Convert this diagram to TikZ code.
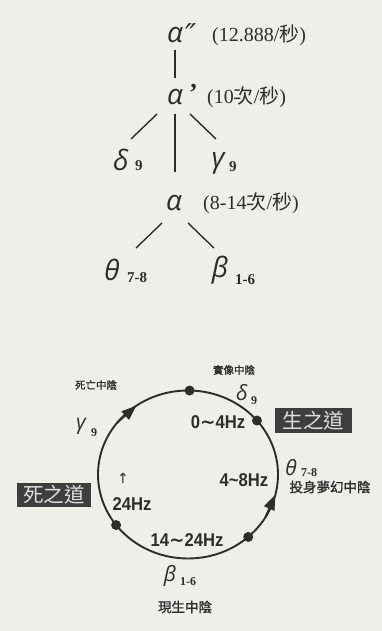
\documentclass[tikz,border=0pt]{standalone}
\usepackage{fontspec}
\setmainfont{Liberation Serif}
\newfontfamily\cjk{Noto Sans CJK TC}
\newfontfamily\cjkb{Noto Sans CJK TC}[FakeBold=1.2]
\newfontfamily\grkf{Open Sans}
\newfontfamily\symf{DejaVu Sans}
\newfontfamily\hzf{Liberation Sans}[FakeStretch=0.9]
\usetikzlibrary{calc,arrows.meta}
\definecolor{paper}{RGB}{239,238,233}
\definecolor{ink}{RGB}{45,45,45}
\definecolor{boxfill}{RGB}{62,62,62}
\definecolor{boxtext}{RGB}{222,222,222}
\begin{document}
\begin{tikzpicture}[x=1pt,y=-1pt,
  grk/.style={inner sep=0pt, text=ink, font=\grkf\itshape\fontsize{28}{28}\selectfont},
  grks/.style={inner sep=0pt, text=ink, font=\grkf\itshape\fontsize{21}{21}\selectfont},
  sub/.style={inner sep=0pt, anchor=west, text=ink, font=\bfseries\fontsize{15}{15}\selectfont},
  subs/.style={inner sep=0pt, anchor=west, text=ink, font=\bfseries\fontsize{12}{12}\selectfont},
  paren/.style={inner sep=0pt, anchor=west, text=ink, font=\fontsize{20}{20}\selectfont},
  hz/.style={inner sep=0pt, text=ink, font=\hzf\bfseries\fontsize{18.5}{18.5}\selectfont},
  lab/.style={inner sep=0pt, text=ink, font=\cjkb\fontsize{10.5}{10.5}\selectfont},
  labb/.style={inner sep=0pt, text=ink, font=\cjkb\fontsize{13.5}{13.5}\selectfont},
  way/.style={fill=boxfill, text=boxtext, inner sep=0pt, minimum height=25pt, minimum width=77pt, font=\cjk\fontsize{20.5}{20.5}\selectfont},
  tree/.style={draw=ink, line width=1.4pt},
  ring/.style={draw=ink, line width=1.9pt},
  dotn/.style={circle, fill=ink, inner sep=0pt, minimum size=10pt},
  arr/.style={draw=ink, line width=1.9pt, -{Triangle[length=15pt,width=11pt]}}
]
\fill[paper] (0,0) rectangle (382,631);
\useasboundingbox (0,0) rectangle (382,631);

% ---------- tree ----------
\node[grk] (a2) at (175,35) {α};
\node[inner sep=0pt, anchor=west, text=ink, font=\symf\itshape\fontsize{30}{30}\selectfont] (a2p) at (185,35) {″};
\node[paren] (a2t) at (212,35) {(12.888/{\cjk 秒})};

\node[grk] (a1) at (175,97) {α};
\node[inner sep=0pt, anchor=west, text=ink, font=\bfseries\fontsize{26}{26}\selectfont] (a1p) at (189,93) {’};
\node[paren] (a1t) at (207,97) {(10{\cjk 次}/{\cjk 秒})};

\node[grk] (d) at (121,160) {δ};
\node[sub] (ds) at (135,166) {9};
\node[grk] (g) at (218,163) {γ};
\node[sub] (gs) at (229,167) {9};

\node[grk] (a0) at (174,203) {α};
\node[paren] (a0t) at (203,203) {(8-14{\cjk 次}/{\cjk 秒})};

\node[grk] (th) at (112,270) {θ};
\node[sub] (ths) at (127,278) {7-8};
\node[grk] (be) at (220,270) {β};
\node[sub] (bes) at (235,280) {1-6};

\draw[tree] ($(a2)+(0,15)$) -- ($(a1)+(0,-19)$);
\draw[tree] ($(a1)+(-18,17)$) -- ($(d)+(10,-21)$);
\draw[tree] ($(a1)+(0,17)$) -- ($(a0)+(1,-31)$);
\draw[tree] ($(a1)+(15,17)$) -- ($(g)+(-2,-24)$);
\draw[tree] ($(a0)+(-12,20)$) -- ($(th)+(24,-22)$);
\draw[tree] ($(a0)+(14,20)$) -- ($(be)+(-6,-22)$);

% ---------- cycle ----------
\coordinate (C) at (188,474.5);
\draw[ring] (C) ellipse [x radius=90, y radius=84];
\draw[arr] ($(C)+({90*cos(142)},{-84*sin(142)})$) -- ($(C)+({90*cos(125)},{-84*sin(125)})$);
\draw[arr] ($(C)+({90*cos(-31)},{-84*sin(-31)})$) -- ($(C)+({90*cos(-14)},{-84*sin(-14)})$);
\node[dotn] (p1) at ($(C)+({90*cos(89)},{-84*sin(89)})$) {};
\node[dotn] (p2) at ($(C)+({90*cos(40)},{-84*sin(40)})$) {};
\node[dotn] (p3) at ($(C)+({90*cos(-48)},{-84*sin(-48)})$) {};
\node[dotn] (p4) at ($(C)+({90*cos(217)},{-84*sin(217)})$) {};

\node[lab] (l1) at (234,370) {實像中陰};
\node[grks] (d2) at (242,393) {δ};
\node[subs] (d2s) at (251,401) {9};
\node[lab] (l2) at (96,385) {死亡中陰};
\node[grks] (g2) at (81,426) {γ};
\node[subs] (g2s) at (91,433) {9};
\node[hz] (h1) at (218,422) {0{\symf\bfseries ∼}4Hz};
\node[way] (sheng) at (313.5,420.5) {生之道};
\node[grks] (th2) at (291,468) {θ};
\node[subs] (th2s) at (301,473) {7-8};
\node[labb] (l3) at (330,487) {投身夢幻中陰};
\node[hz] (h2) at (244,480) {4{\char"7E}8Hz};
\node[inner sep=0pt, text=ink, font=\symf\fontsize{14}{14}\selectfont] (up) at (123,478) {↑};
\node[hz] (h3) at (132,504) {24Hz};
\node[way, minimum width=74pt, minimum height=24pt] (si) at (54,495) {死之道};
\node[hz] (h4) at (187,540) {14{\symf\bfseries ∼}24Hz};
\node[grks] (be2) at (170,576) {β};
\node[subs] (be2s) at (180,582) {1-6};
\node[labb] (l4) at (185,607) {現生中陰};
\end{tikzpicture}
\end{document}
